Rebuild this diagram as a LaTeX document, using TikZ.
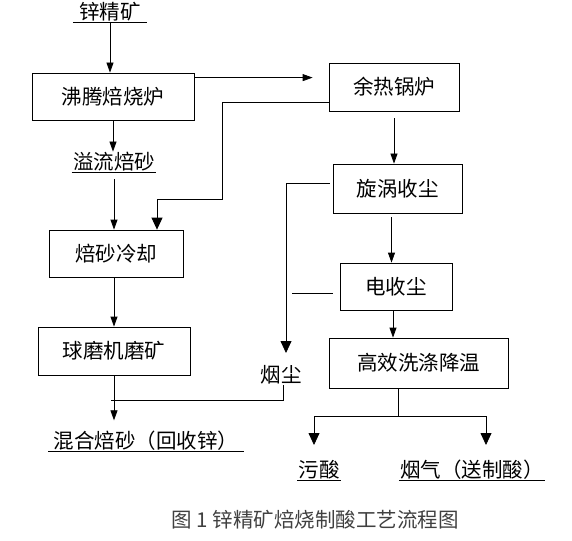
\documentclass[tikz,border=0pt]{standalone}
\usepackage{fontspec}
\setmainfont{Noto Sans CJK SC}
\usetikzlibrary{arrows.meta}

\begin{document}
\begin{tikzpicture}[x=1pt, y=-1pt, font=\fontsize{20.5}{24}\selectfont, line width=.8pt,
    >={Triangle[width=7pt,length=10pt]},
    big/.style={-{Triangle[width=11pt,length=12pt]}},
    box/.style={draw, minimum height=47pt, inner sep=0pt},
    lbl/.style={inner xsep=1pt, inner ysep=.5pt}]
    \useasboundingbox (0,0) rectangle (572,540);
    % left column
    \node[lbl, inner xsep=6pt] (zinc) at (110,12) {锌精矿};
    \node[box, minimum width=162pt] (furnace) at (113,96.5) {沸腾焙烧炉};
    \node[lbl] (overflow) at (114,162) {溢流焙砂};
    \node[box, minimum width=134pt] (cooling) at (116,253.5) {焙砂冷却};
    \node[box, minimum width=152pt, minimum height=48pt] (mill) at (114,351) {球磨机磨矿};
    \node[lbl, inner xsep=5pt] (mixed) at (146,441) {混合焙砂（回收锌）};
    % right column
    \node[box, minimum width=130pt, minimum height=48pt] (boiler) at (394,87) {余热锅炉};
    \node[box, minimum width=129pt, minimum height=49pt] (cyclone) at (397.5,188.5) {旋涡收尘};
    \node[box, minimum width=112pt] (esp) at (396,286.5) {电收尘};
    \node[box, minimum width=179pt, minimum height=50pt] (scrubber) at (418.5,363) {高效洗涤降温};
    \node[inner sep=0pt] (dust) at (281,375) {烟尘};
    \node[lbl] (acid) at (319,470) {污酸};
    \node[lbl] (gas) at (472,470) {烟气（送制酸）};
    \node[text=black!75] (caption) at (315,520) {图 1 锌精矿焙烧制酸工艺流程图};
    \foreach \n in {zinc,overflow,mixed,acid,gas}
      \draw (\n.south west) -- (\n.south east);
    % turning points
    \coordinate (fo) at ([yshift=-5pt]furnace.north east);
    \coordinate (rb) at ([yshift=9pt]boiler.south west);
    \coordinate (rturn) at (222,199);
    \coordinate (cy) at ([xshift=-3pt,yshift=5.5pt]cyclone.west);
    \coordinate (dustin) at (286,353);
    \coordinate (mixjoin) at (111,400);
    \coordinate (cs) at ([xshift=-6pt]cyclone.south);
    \coordinate (es) at ([xshift=-3pt]esp.south);
    \coordinate (split) at (398,416);
    \coordinate (acidin) at (314,445);
    \coordinate (gasin) at (486,445);
    % flows
    \draw[->] (zinc.south) -- (zinc.south |- furnace.north);
    \draw[->, shorten >=16pt] (fo) -- (fo -| boiler.west);
    \draw[big] (rb) -| (rturn) -| ([xshift=41pt]cooling.north);
    \draw[->] (furnace.south) -- (furnace.south |- overflow.north);
    \draw[->, shorten <=7pt] (overflow.south) -- (overflow.south |- cooling.north);
    \draw[->] (cooling.south -| mill.north) -- (mill.north);
    \draw[->, shorten >=10pt] (mill.south) -- (mill.south |- mixed.north);
    \draw[->, shorten <=7pt] (boiler.south) -- (boiler.south |- cyclone.north);
    \draw[->, shorten <=4pt] (cs) -- (cs |- esp.north);
    \draw[->] (es) -- (es |- scrubber.north);
    \draw[big] (cy) -| (dustin);
    \draw ([xshift=-7pt,yshift=-6.5pt]esp.west) -- ++(-41,0);
    \draw ([xshift=2pt]dust.south) |- (mixjoin);
    \draw (scrubber.south -| split) -- (split);
    \draw[big] (split) -| (acidin);
    \draw[big] (split) -| (gasin);
\end{tikzpicture}
\end{document}
